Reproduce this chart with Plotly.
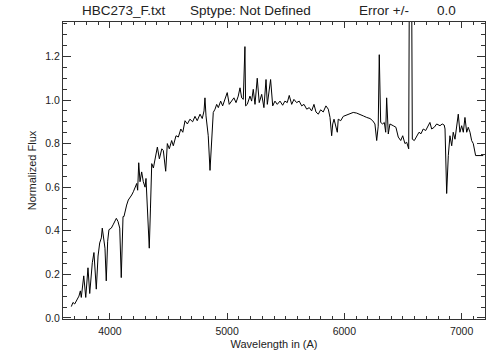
import plotly.graph_objects as go

wavelength = [3671, 3685, 3700, 3719, 3736, 3748, 3756, 3777, 3794, 3813, 3828, 3850, 3864, 3884,
              3899, 3913, 3927, 3935, 3947, 3958, 3969, 3981, 3992, 4012, 4027, 4041, 4055, 4069,
              4084, 4097, 4112, 4120, 4135, 4143, 4157, 4172, 4186, 4200, 4214, 4229, 4237, 4246,
              4257, 4271, 4285, 4300, 4308, 4319, 4336, 4346, 4352, 4357, 4371, 4394, 4405, 4422,
              4443, 4456, 4476, 4490, 4507, 4527, 4541, 4564, 4584, 4605, 4622, 4641, 4661, 4683,
              4706, 4726, 4745, 4769, 4788, 4803, 4811, 4820, 4839, 4854, 4868, 4882, 4897, 4911,
              4925, 4945, 4962, 4982, 5001, 5018, 5039, 5058, 5076, 5095, 5110, 5124, 5138, 5152,
              5158, 5172, 5195, 5209, 5223, 5238, 5257, 5274, 5295, 5314, 5332, 5343, 5371, 5389,
              5408, 5428, 5451, 5474, 5493, 5513, 5530, 5551, 5570, 5593, 5615, 5636, 5656, 5679,
              5701, 5721, 5741, 5758, 5778, 5798, 5820, 5843, 5863, 5878, 5892, 5901, 5912, 5929,
              5940, 5948, 5969, 5991, 6020, 6048, 6076, 6105, 6133, 6162, 6191, 6219, 6242, 6261,
              6276, 6289, 6298, 6310, 6327, 6341, 6353, 6361, 6375, 6389, 6417, 6440, 6460, 6481,
              6498, 6517, 6532, 6549, 6564, 6580, 6597, 6617, 6637, 6654, 6673, 6694, 6716, 6730,
              6745, 6767, 6788, 6816, 6835, 6852, 6859, 6873, 6887, 6901, 6916, 6929, 6944, 6959,
              6972, 6986, 7001, 7015, 7029, 7044, 7057, 7072, 7086, 7100, 7120, 7185]
flux = [0.052, 0.071, 0.064, 0.086, 0.100, 0.124, 0.094, 0.193, 0.094, 0.230, 0.112, 0.253, 0.300, 0.132,
        0.284, 0.344, 0.367, 0.412, 0.360, 0.320, 0.170, 0.352, 0.405, 0.412, 0.427, 0.445, 0.457, 0.443,
        0.412, 0.185, 0.465, 0.465, 0.503, 0.518, 0.541, 0.552, 0.564, 0.579, 0.597, 0.617, 0.586, 0.712,
        0.625, 0.670, 0.625, 0.600, 0.640, 0.534, 0.320, 0.500, 0.670, 0.708, 0.688, 0.768, 0.784, 0.730,
        0.776, 0.768, 0.673, 0.800, 0.776, 0.814, 0.790, 0.836, 0.830, 0.867, 0.852, 0.905, 0.890, 0.912,
        0.900, 0.925, 0.905, 0.935, 0.915, 0.950, 1.010, 0.927, 0.836, 0.677, 0.790, 0.943, 0.958, 0.980,
        0.965, 0.995, 0.973, 1.003, 1.034, 0.980, 0.995, 1.010, 0.988, 1.018, 1.056, 1.010, 1.003, 1.245,
        0.973, 0.980, 1.018, 0.995, 1.049, 0.980, 1.100, 0.988, 1.026, 0.965, 1.094, 0.980, 1.094, 0.973,
        0.995, 0.980, 0.995, 0.976, 0.995, 0.988, 1.021, 0.980, 1.003, 0.988, 0.995, 0.973, 0.980, 0.958,
        0.965, 0.950, 0.980, 0.945, 0.935, 0.955, 0.945, 0.973, 0.958, 0.920, 0.836, 0.890, 0.912, 0.875,
        0.852, 0.912, 0.905, 0.925, 0.930, 0.935, 0.943, 0.940, 0.935, 0.927, 0.920, 0.915, 0.905, 0.890,
        0.814, 0.880, 1.208, 0.897, 0.890, 0.897, 0.852, 1.010, 0.844, 0.890, 0.882, 0.875, 0.830, 0.814,
        0.836, 0.800, 0.806, 0.776, 2.800, 0.820, 0.814, 0.836, 0.852, 0.845, 0.867, 0.860, 0.882, 0.897,
        0.867, 0.875, 0.890, 0.882, 0.890, 0.885, 0.867, 0.571, 0.745, 0.836, 0.790, 0.852, 0.820, 0.882,
        0.935, 0.852, 0.882, 0.852, 0.920, 0.852, 0.875, 0.852, 0.814, 0.800, 0.745, 0.745]

x_ticks = [4000, 5000, 6000, 7000]
y_ticks = [0.0, 0.2, 0.4, 0.6, 0.8, 1.0, 1.2]
y_tick_labels = ["0.0", "0.2", "0.4", "0.6", "0.8", "1.0", "1.2"]

title_parts = ["HBC273_F.txt", "Sptype: Not Defined", "Error +/-", "0.0"]
title_pos = [0.040, 0.296, 0.697, 0.882]

FONT = "Liberation Sans, Arial, sans-serif"
AX = "#333333"

fig = go.Figure()
fig.add_trace(go.Scatter(x=wavelength, y=flux, mode="lines",
                         line=dict(color="black", width=1), showlegend=False,
                         hoverinfo="x+y"))

fig.update_layout(
    width=504, height=360,
    margin=dict(l=63, r=19, t=22, b=41),
    paper_bgcolor="white", plot_bgcolor="white",
    font=dict(family=FONT, size=11, color="#222222"),
    showlegend=False,
)
fig.update_xaxes(
    range=[3600, 7200], tickvals=x_ticks, ticktext=[str(v) for v in x_ticks],
    ticks="inside", ticklen=6, tickwidth=1, tickcolor=AX,
    showline=True, linecolor=AX, linewidth=1, mirror="ticks",
    showgrid=False, zeroline=False,
    minor=dict(dtick=100, tick0=3600, ticks="inside", ticklen=3, tickcolor=AX, showgrid=False),
    tickfont=dict(size=10.5, family=FONT), ticklabelstandoff=2,
    title=dict(text="Wavelength in (A)", font=dict(size=11, family=FONT), standoff=4),
)
fig.update_yaxes(
    range=[-0.005, 1.358], tickvals=y_ticks, ticktext=y_tick_labels,
    ticks="inside", ticklen=8, tickwidth=1, tickcolor=AX,
    showline=True, linecolor=AX, linewidth=1, mirror="ticks",
    showgrid=False, zeroline=False,
    minor=dict(dtick=0.05, tick0=0, ticks="inside", ticklen=4, tickcolor=AX, showgrid=False),
    tickfont=dict(size=10.5, family=FONT),
    title=dict(text="Normalized Flux", font=dict(size=11, family=FONT), standoff=6),
)
for txt, px in zip(title_parts, title_pos):
    fig.add_annotation(text=txt, xref="paper", yref="paper", x=px, y=1.040,
                       xanchor="left", yanchor="middle", showarrow=False,
                       font=dict(size=13.5, family=FONT, color="#222222"))

fig.write_html("out.html", config={"displayModeBar": False},
               post_script="document.body.style.margin='0px';")
